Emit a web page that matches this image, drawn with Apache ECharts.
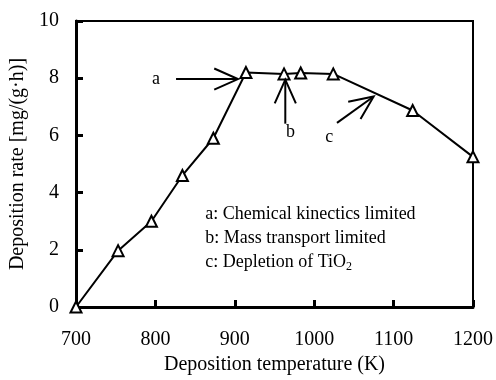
<!DOCTYPE html>
<html><head><meta charset="utf-8">
<script src="https://cdn.jsdelivr.net/npm/echarts@6/dist/echarts.min.js"></script>
<style>html,body{margin:0;padding:0;background:#fff}#c{width:496px;height:380px}</style>
</head><body><div id="c"></div>
<script>
var temps = [700, 753, 795, 834, 873, 914, 962, 983, 1024, 1124, 1200];
var rates = [0, 1.97, 3.0, 4.6, 5.9, 8.2, 8.15, 8.18, 8.15, 6.87, 5.25];
var xTicks = [700, 800, 900, 1000, 1100, 1200];
var yTicks = [0, 2, 4, 6, 8, 10];
// annotation arrows in data coordinates: [tailX, tailY, tipX, tipY]
var arrows = [[826, 7.97, 904, 7.97], [963.6, 6.41, 963.6, 7.95], [1028.7, 6.44, 1074.9, 7.36]];
var arrowLabels = [['a', 800.8, 7.97], ['b', 970, 6.1], ['c', 1019, 5.92]];
var notes = ['a: Chemical kinectics limited', 'b: Mass transport limited', 'c: Depletion of TiO{sub|2}'];
var noteAnchor = [862.7, 3.25];
var FONT = '"Liberation Serif","Times New Roman",serif';

var chart = echarts.init(document.getElementById('c'));
var option = {
  backgroundColor: '#fff',
  animation: false,
  grid: {left: 75, right: 23, top: 21, bottom: 71, show: true, borderColor: '#000', borderWidth: 2, backgroundColor: 'transparent'},
  xAxis: {
    type: 'value', min: xTicks[0], max: xTicks[xTicks.length-1], interval: 100,
    name: 'Deposition temperature (K)', nameLocation: 'middle', nameGap: 48,
    nameTextStyle: {fontFamily: FONT, fontSize: 20, color: '#000'},
    axisLine: {lineStyle: {color: '#000', width: 3}},
    axisTick: {inside: true, length: 7, lineStyle: {color: '#000', width: 3}},
    axisLabel: {fontFamily: FONT, fontSize: 20, color: '#000', margin: 23, formatter: function(v){ return String(v); }},
    splitLine: {show: false}
  },
  yAxis: {
    type: 'value', min: yTicks[0], max: yTicks[yTicks.length-1], interval: 2,
    name: 'Deposition rate [mg/(g\u00b7h)]', nameLocation: 'middle', nameGap: 48,
    nameTextStyle: {fontFamily: FONT, fontSize: 20, color: '#000'},
    axisLine: {lineStyle: {color: '#000', width: 3}},
    axisTick: {inside: true, length: 7, lineStyle: {color: '#000', width: 3}},
    axisLabel: {fontFamily: FONT, fontSize: 20, color: '#000', margin: 17, formatter: function(v){ return String(v); }},
    splitLine: {show: false}
  },
  series: [{
    type: 'line',
    data: temps.map(function(t, i){ return [t, rates[i]]; }),
    symbol: 'triangle', symbolSize: 11, showAllSymbol: true,
    lineStyle: {color: '#000', width: 2},
    itemStyle: {color: '#fff', borderColor: '#000', borderWidth: 2},
    z: 5
  }]
};
chart.setOption(option);

function px(x, y){ return chart.convertToPixel({gridIndex: 0}, [x, y]); }
var g = [];
arrows.forEach(function(a){
  var t = px(a[0], a[1]), h = px(a[2], a[3]);
  g.push({type: 'line', shape: {x1: t[0], y1: t[1], x2: h[0], y2: h[1]}, style: {stroke: '#000', lineWidth: 2}, z: 10});
  var ang = Math.atan2(t[1]-h[1], t[0]-h[0]);
  var L = 26, da = 24*Math.PI/180;
  var p1 = [h[0]+L*Math.cos(ang+da), h[1]+L*Math.sin(ang+da)];
  var p2 = [h[0]+L*Math.cos(ang-da), h[1]+L*Math.sin(ang-da)];
  g.push({type: 'polyline', shape: {points: [p1, h, p2]}, style: {stroke: '#000', lineWidth: 2, fill: null}, z: 10});
});
arrowLabels.forEach(function(l){
  var p = px(l[1], l[2]);
  g.push({type: 'text', x: p[0], y: p[1], style: {text: l[0], font: '18px ' + FONT, fill: '#000', align: 'center', verticalAlign: 'middle'}, z: 10});
});
var a0 = px(noteAnchor[0], noteAnchor[1]);
notes.forEach(function(n, i){
  g.push({type: 'text', x: a0[0], y: a0[1] + i*24, style: {
    text: n, font: '18px ' + FONT, fill: '#000', align: 'left', verticalAlign: 'middle',
    rich: {sub: {fontFamily: FONT, fontSize: 12, verticalAlign: 'bottom', padding: [10, 0, 0, 0], fill: '#000'}}
  }, z: 10});
});
chart.setOption({graphic: g});
</script></body></html>
